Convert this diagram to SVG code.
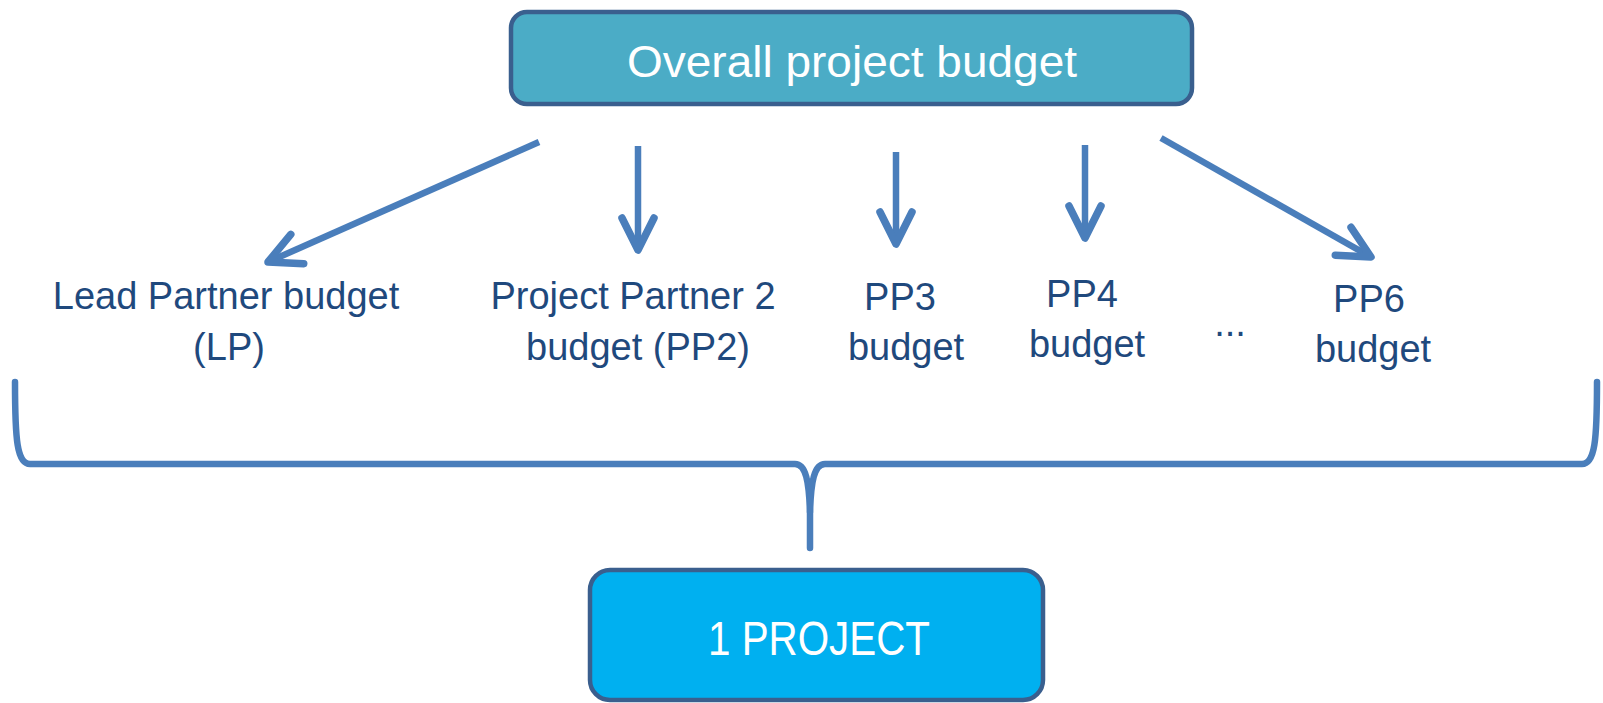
<svg xmlns="http://www.w3.org/2000/svg" width="1603" height="703" viewBox="0 0 1603 703">
  <style>
    .box-top { fill: #4BACC6; stroke: #3A5F8E; stroke-width: 4.5; }
    .box-bot { fill: #00B0F0; stroke: #3A5F8E; stroke-width: 4.5; }
    .boxtxt { font-family: "Liberation Sans", Arial, sans-serif; fill: #FFFFFF; text-anchor: middle; }
    .lbl { font-family: "Liberation Sans", Arial, sans-serif; font-size: 38px; fill: #1F497D; text-anchor: middle; }
    .conn { stroke: #4A7EBB; stroke-width: 6.5; fill: none; }
    .brace { stroke: #4A7EBB; stroke-width: 6.5; fill: none; stroke-linecap: round; stroke-linejoin: round; }
  </style>
  <defs>
    <marker id="vhead" markerUnits="userSpaceOnUse" viewBox="-40 -22 46 44" refX="0" refY="0" markerWidth="46" markerHeight="44" orient="auto">
      <path d="M-32,-16 L0,0 L-32,16" fill="none" stroke="#4A7EBB" stroke-width="7.5" stroke-linecap="round" stroke-linejoin="round"/>
    </marker>
  </defs>
  <rect width="1603" height="703" fill="#FFFFFF"/>

  <g id="connectors">
    <line class="conn" x1="539" y1="142" x2="268" y2="262" marker-end="url(#vhead)"/>
    <line class="conn" x1="638" y1="146" x2="638" y2="250" marker-end="url(#vhead)"/>
    <line class="conn" x1="896" y1="152" x2="896" y2="244" marker-end="url(#vhead)"/>
    <line class="conn" x1="1085" y1="145" x2="1085" y2="238" marker-end="url(#vhead)"/>
    <line class="conn" x1="1161" y1="138" x2="1371" y2="257" marker-end="url(#vhead)"/>
    <path class="brace" d="M15,382 C15,440 17,464 30,464 L795,464 C806,464 809,482 810,512 L810,548"/>
    <path class="brace" d="M810,512 C811,482 814,464 825,464 L1582,464 C1595,464 1597,440 1597,382"/>
  </g>

  <g id="overall">
    <rect class="box-top" x="511" y="12" width="681" height="92" rx="16" ry="16"/>
    <text class="boxtxt" x="852" y="77" font-size="44" textLength="450" lengthAdjust="spacingAndGlyphs">Overall project budget</text>
  </g>

  <g id="lp">
    <text class="lbl" x="226" y="309">Lead Partner budget</text>
    <text class="lbl" x="229" y="360">(LP)</text>
  </g>
  <g id="pp2">
    <text class="lbl" x="633" y="309">Project Partner 2</text>
    <text class="lbl" x="638" y="360">budget (PP2)</text>
  </g>
  <g id="pp3">
    <text class="lbl" x="900" y="310">PP3</text>
    <text class="lbl" x="906" y="360">budget</text>
  </g>
  <g id="pp4">
    <text class="lbl" x="1082" y="307">PP4</text>
    <text class="lbl" x="1087" y="357">budget</text>
  </g>
  <g id="ellipsis">
    <text class="lbl" x="1230" y="336">...</text>
  </g>
  <g id="pp6">
    <text class="lbl" x="1369" y="312">PP6</text>
    <text class="lbl" x="1373" y="362">budget</text>
  </g>

  <g id="project">
    <rect class="box-bot" x="590" y="570" width="453" height="130" rx="20" ry="20"/>
    <text class="boxtxt" x="819" y="655" font-size="48" textLength="222" lengthAdjust="spacingAndGlyphs">1 PROJECT</text>
  </g>
</svg>
